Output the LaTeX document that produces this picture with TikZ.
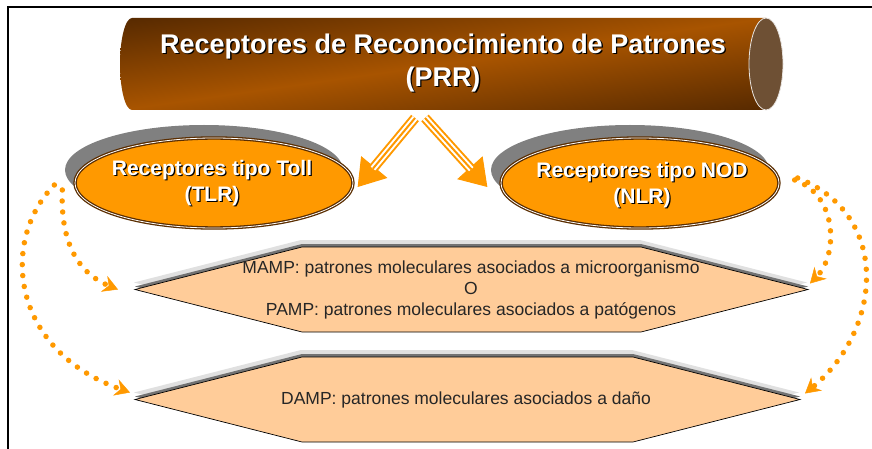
\documentclass[tikz,border=0pt]{standalone}
\usepackage{fontspec}
\setmainfont{Liberation Sans}
\usetikzlibrary{shapes.geometric,arrows.meta}
\definecolor{prrorange}{HTML}{FF9900}
\definecolor{prrbrown}{HTML}{5A2D00}
\definecolor{prrdark}{HTML}{542800}
\definecolor{prrmid}{HTML}{A85400}
\definecolor{prrface}{HTML}{6E5034}
\definecolor{prrpeach}{HTML}{FFCC99}
\tikzset{
    prrtitle/.style={font=\bfseries\fontsize{27}{33}\selectfont, align=center, inner sep=0pt},
    receptor/.style={
        ellipse, minimum width=278pt, minimum height=90pt, inner sep=0pt,
        fill=prrorange, draw=prrbrown, line width=1.3pt,
        double=white, double distance=0.8pt
    },
    receptorshadow/.style={ellipse, minimum width=278pt, minimum height=90pt, fill=black!50},
    receptortext/.style={font=\bfseries\fontsize{21}{26}\selectfont, align=center, inner sep=0pt},
    patterntext/.style={font=\fontsize{17.5}{21}\selectfont, align=center, text=black!85, inner sep=0pt},
    dotflow/.style={
        prrorange, line width=5.5pt, line cap=round, dash pattern=on 0pt off 11pt,
        -{Stealth[length=15pt, width=17pt, inset=5pt, line width=0.5pt]}
    }
}
\newcommand{\shadowtext}[4]{
	\node[#3, text=black] (#2shadow) at ([xshift=1.3pt, yshift=-1.3pt]#1) {#4};
	\node[#3, text=white] (#2) at (#1) {#4};
}
\newcommand{\hollowarrow}[2]{
	\draw[prrorange, line width=1pt, -{Triangle[length=26pt, width=34pt]}] (#1) -- (#2);
	\draw[prrorange, line width=2pt, double=white, double distance=6pt, shorten >=24pt] (#1) -- (#2);
	\draw[prrorange, line width=2pt, shorten >=24pt] (#1) -- (#2);
}
% name, left, right, top, bottom
\newcommand{\patternband}[5]{
	\fill[black!12, xshift=-1pt, yshift=7pt] (#2,{(#4+#5)/2}) -- (#2+167,#4) -- (#3-167,#4) -- (#3,{(#4+#5)/2}) -- (#3-167,#5) -- (#2+167,#5) -- cycle;
	\fill[black!55, yshift=3pt] (#2,{(#4+#5)/2}) -- (#2+167,#4) -- (#3-167,#4) -- (#3,{(#4+#5)/2}) -- (#3-167,#5) -- (#2+167,#5) -- cycle;
	\filldraw[fill=prrpeach, draw=black, line width=0.7pt] (#2,{(#4+#5)/2}) -- (#2+167,#4) -- (#3-167,#4) -- (#3,{(#4+#5)/2}) -- (#3-167,#5) -- (#2+167,#5) -- cycle;
	\coordinate (#1-w) at (#2,{(#4+#5)/2});
	\coordinate (#1-e) at (#3,{(#4+#5)/2});
}

\begin{document}
\begin{tikzpicture}[x=1pt, y=-1pt]
		\useasboundingbox (0,0) rectangle (872,449);

		% Frame
		\draw[line width=1.3pt] (8,449) -- (8,7) -- (872,7);

		% Cylinder
		\begin{scope}
			\clip (766,18) -- (132,18) arc[start angle=270, end angle=90, x radius=12, y radius=46] -- (766,110) -- cycle;
			\shade[top color=prrdark, bottom color=prrdark, middle color=prrmid, transform canvas={shift={(443,64)}, yslant=0.142}]
				(-360,-95) rectangle (360,95);
		\end{scope}
		\filldraw[fill=prrface, draw=white!85!prrface, line width=0.8pt] (766,64) ellipse [x radius=17, y radius=46];
		\coordinate (prrbase) at (420,110);
		\shadowtext{443,63}{prr}{prrtitle}{Receptores de Reconocimiento de Patrones\\(PRR)}

		% Receptors
		\node[receptorshadow] (tlrback) at (204,170) {};
		\node[receptor] (tlr) at (214,183) {};
		\shadowtext{212,183}{tlrtext}{receptortext}{Receptores tipo Toll\\(TLR)}

		\node[receptorshadow] (nlrback) at (630,170) {};
		\node[receptor] (nlr) at (640,183) {};
		\shadowtext{642,185}{nlrtext}{receptortext}{Receptores tipo NOD\\(NLR)}

		\hollowarrow{[xshift=-5pt, yshift=-8pt]prrbase}{[xshift=4pt, yshift=-4pt]tlr.east}
		\hollowarrow{[xshift=5pt, yshift=-8pt]prrbase}{[xshift=-13pt, yshift=-4pt]nlr.west}

		% Patterns
		\patternband{mampband}{135}{808}{247}{332}
		\node[patterntext] (mamp) at (471,289.5) {MAMP: patrones moleculares asociados a microorganismo\\O\\PAMP: patrones moleculares asociados a patógenos};
		\patternband{dampband}{135}{800}{357}{442}
		\node[patterntext] (damp) at (466,399.5) {DAMP: patrones moleculares asociados a daño};

		% Dotted links
		\draw[dotflow] ([xshift=-12pt, yshift=-7pt]tlr.west) .. controls (60,245) and (80,274) .. ([xshift=-17pt]mampband-w);
		\draw[dotflow] ([xshift=-20pt, yshift=-2pt]tlr.west) .. controls (0,240) and (10,350) .. ([xshift=-5pt, yshift=7pt]dampband-w);
		\draw[dotflow] ([xshift=15pt, yshift=3pt]nlr.east) .. controls (838,195) and (838,255) .. ([xshift=2pt, yshift=6pt]mampband-e);
		\draw[dotflow] ([xshift=18pt, yshift=5pt]nlr.east) .. controls (892,215) and (882,330) .. ([xshift=5pt, yshift=6pt]dampband-e);

	\end{tikzpicture}
\end{document}
